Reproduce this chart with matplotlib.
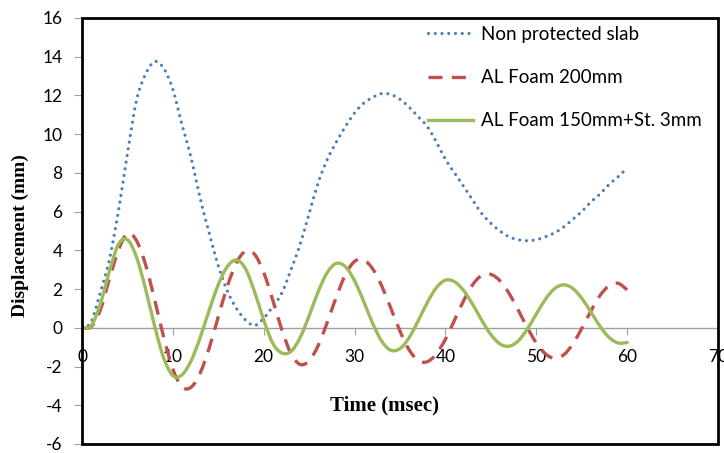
import numpy as np
import matplotlib.pyplot as plt
from matplotlib.patches import Rectangle, PathPatch
from matplotlib.path import Path
from matplotlib.lines import Line2D

plt.rcParams['axes.unicode_minus'] = False

# time in msec
time_ms = list(range(0, 61))

# displacement (mm)
non_protected = [0.0, 0.3, 1.8, 3.5, 6.0, 9.0, 11.75, 13.1, 13.75, 13.4,
                 12.3, 10.5, 8.8, 6.7, 4.9, 3.2, 1.9, 1.0, 0.4, 0.12,
                 0.5, 1.1, 1.8, 3.0, 4.3, 5.9, 7.5, 8.7, 9.6, 10.4,
                 11.1, 11.6, 11.9, 12.1, 12.05, 11.8, 11.4, 10.9, 10.4, 9.6,
                 8.7, 8.0, 7.3, 6.6, 5.9, 5.4, 5.0, 4.7, 4.55, 4.5,
                 4.55, 4.7, 4.9, 5.2, 5.6, 6.0, 6.5, 6.9, 7.4, 7.8, 8.25]

al_foam_200 = [0.0, 0.05, 0.9, 2.5, 4.0, 4.88, 4.5, 3.26, 1.45, -0.5,
               -2.13, -3.05, -3.07, -2.34, -1.04, 0.57, 2.15, 3.36, 3.96, 3.79,
               2.86, 1.43, -0.11, -1.33, -1.89, -1.7, -0.91, 0.29, 1.61, 2.75,
               3.43, 3.51, 3.04, 2.15, 1.0, -0.17, -1.13, -1.69, -1.75, -1.35,
               -0.59, 0.4, 1.4, 2.23, 2.71, 2.76, 2.43, 1.78, 0.93, 0.02,
               -0.78, -1.34, -1.57, -1.4, -0.85, -0.04, 0.86, 1.66, 2.17, 2.3, 1.96]

al_foam_150_st3 = [0.0, 0.1, 1.2, 2.9, 4.3, 4.55, 3.65, 2.0, 0.08, -1.57,
                   -2.47, -2.43, -1.71, -0.51, 0.91, 2.23, 3.17, 3.5, 3.05, 1.85,
                   0.4, -0.8, -1.3, -1.22, -0.51, 0.62, 1.87, 2.86, 3.33, 3.15,
                   2.43, 1.37, 0.22, -0.7, -1.16, -1.07, -0.51, 0.36, 1.3, 2.07,
                   2.46, 2.38, 1.93, 1.21, 0.39, -0.35, -0.83, -0.95, -0.68, -0.07,
                   0.71, 1.47, 2.02, 2.22, 2.04, 1.53, 0.82, 0.09, -0.49, -0.78, -0.76]

labels = ["Non protected slab", "AL Foam 200mm", "AL Foam 150mm+St. 3mm"]


def smooth_path(x, y):
    # Excel-style "smoothed line": bezier segments through the data points
    p = np.column_stack([x, y]).astype(float)
    verts = [p[0]]
    codes = [Path.MOVETO]
    n = len(p)
    for i in range(n - 1):
        p0 = p[i - 1] if i > 0 else p[i]
        p3 = p[i + 2] if i + 2 < n else p[i + 1]
        c1 = p[i] + (p[i + 1] - p0) / 6
        c2 = p[i + 1] - (p3 - p[i]) / 6
        verts += [c1, c2, p[i + 1]]
        codes += [Path.CURVE4] * 3
    return Path(verts, codes)


styles = [
    dict(color="#4A7EBB", lw=2.3, linestyle=(0, (0.01, 2.1)), capstyle="round"),
    dict(color="#C0504D", lw=2.4, linestyle=(0, (4.2, 2.8)), capstyle="butt"),
    dict(color="#9BBB59", lw=2.4, linestyle="-", capstyle="round"),
]

fig = plt.figure(figsize=(7.24, 4.53), dpi=100)
ax = fig.add_axes([82 / 724, 9 / 453, 636 / 724, 426 / 453])

handles = []
for series, st, lab in zip([non_protected, al_foam_200, al_foam_150_st3], styles, labels):
    ax.add_patch(PathPatch(smooth_path(time_ms, series), fill=False,
                           edgecolor=st["color"], lw=st["lw"],
                           linestyle=st["linestyle"], capstyle=st["capstyle"],
                           zorder=3))
    handles.append(Line2D([], [], color=st["color"], lw=st["lw"],
                          linestyle=st["linestyle"],
                          dash_capstyle=st["capstyle"], label=lab))

ax.set_xlim(0, 70)
ax.set_ylim(-6, 16)
ax.set_xticks(range(0, 71, 10))
ax.set_yticks(range(-6, 17, 2))

# x axis crosses at zero, frame drawn as a black box
for s in ["top", "right", "left"]:
    ax.spines[s].set_visible(False)
ax.spines["bottom"].set_position(("data", 0))
ax.spines["bottom"].set_color("#A0A0A0")
ax.spines["bottom"].set_linewidth(1.0)
ax.add_patch(Rectangle((0, 0), 1, 1, transform=ax.transAxes, fill=False,
                       edgecolor="black", lw=2, clip_on=False, zorder=5))

ax.tick_params(axis="x", direction="out", length=5, color="#A0A0A0",
               pad=10, labelsize=12.5)
ax.tick_params(axis="y", direction="out", length=6, color="#A0A0A0",
               pad=8, labelsize=12.5)
for t in ax.get_xticklabels() + ax.get_yticklabels():
    t.set_fontfamily("Lato")

ax.set_xlabel("Time (msec)", fontfamily="Liberation Serif", fontweight="bold",
              fontsize=15)
ax.xaxis.set_label_coords(0.475, 0.115)
ax.set_ylabel("Displacement (mm)", fontfamily="Liberation Serif",
              fontweight="bold", fontsize=14)
ax.yaxis.set_label_coords(-0.084, 0.49)

ax.legend(handles=handles, loc="upper left",
          bbox_to_anchor=(411 / 724, 1 - 9 / 453),
          bbox_transform=fig.transFigure, frameon=False,
          prop={"family": "Lato", "size": 13.5}, handlelength=2.4,
          handletextpad=0.45, labelspacing=1.4)

fig.savefig("out.png", dpi=100)
